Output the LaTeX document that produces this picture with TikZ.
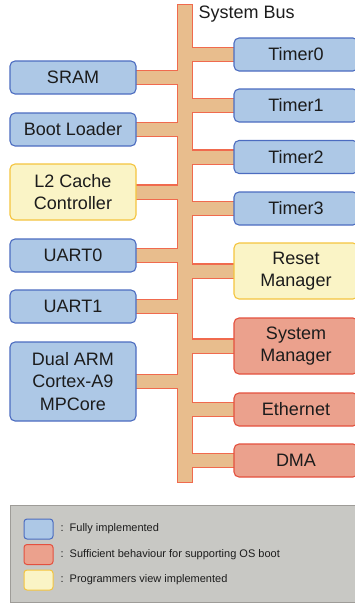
\documentclass[tikz,border=0pt]{standalone}
\usepackage{fontspec}
\setmainfont{Liberation Sans}
\usetikzlibrary{calc, backgrounds}

\definecolor{fullfill}{HTML}{ADC8E6}
\definecolor{fulldraw}{HTML}{4C6CC0}
\definecolor{bootfill}{HTML}{EBA18D}
\definecolor{bootdraw}{HTML}{E4503E}
\definecolor{pvfill}{HTML}{FAF4C6}
\definecolor{pvdraw}{HTML}{F4C43E}
\definecolor{busfill}{HTML}{E8BD8D}
\definecolor{busdraw}{HTML}{F06A4E}
\definecolor{legfill}{HTML}{C8C8C4}
\definecolor{legdraw}{HTML}{9E9C98}
\definecolor{txt}{HTML}{1C1C1C}

\tikzset{
    block/.style={rectangle, rounded corners=5pt, line width=1.1pt, inner sep=0pt,
        minimum width=126pt, minimum height=33pt, align=center, text=txt,
        font=\fontsize{18}{22.5}\selectfont},
    full/.style={block, fill=fullfill, draw=fulldraw},
    osboot/.style={block, fill=bootfill, draw=bootdraw},
    pview/.style={block, fill=pvfill, draw=pvdraw},
    rblock/.style={minimum width=124pt},
    busedge/.style={draw=busdraw, line width=2.4pt},
    busbody/.style={fill=busfill},
    swatch/.style={rectangle, rounded corners=3pt, line width=1pt, inner sep=0pt,
        minimum width=29pt, minimum height=20pt},
    legtext/.style={anchor=west, text=txt, font=\fontsize{11}{13}\selectfont}
}

\begin{document}
\begin{tikzpicture}[x=1pt, y=-1pt]
    \useasboundingbox (0,0) rectangle (355,603);

    % Left side blocks
    \node[full] (sram) at (73,77.5) {SRAM};
    \node[full] (boot) at (73,129.5) {Boot Loader};
    \node[pview, minimum height=56pt] (ltwo) at (73,192) {L2 Cache\\Controller};
    \node[full] (uartzero) at (73,255.5) {UART0};
    \node[full] (uartone) at (73,306.5) {UART1};
    \node[full, minimum height=79pt] (arm) at (73,381.5) {Dual ARM\\Cortex-A9\\MPCore};

    % Right side blocks
    \node[full, rblock] (timerzero) at (296,54.5) {Timer0};
    \node[full, rblock] (timerone) at (296,105.5) {Timer1};
    \node[full, rblock] (timertwo) at (296,157) {Timer2};
    \node[full, rblock] (timerthree) at (296,208.5) {Timer3};
    \node[pview, rblock, minimum height=56pt] (reset) at (296,271) {Reset\\Manager};
    \node[osboot, rblock, minimum height=56pt] (sysman) at (296,346) {System\\Manager};
    \node[osboot, rblock] (ether) at (296,409.5) {Ethernet};
    \node[osboot, rblock] (dma) at (296,460.5) {DMA};

    % System bus
    \coordinate (bustop) at (178,5);
    \coordinate (busbot) at (192,482);
    \node[anchor=west, text=txt, font=\fontsize{18}{22}\selectfont] (buslabel) at (195,14) {System Bus};

    \begin{scope}[on background layer]
        % outline pass, then fill pass on top
        \foreach \sty in {busedge, busbody} {
            \path[\sty] (bustop) rectangle (busbot);
            \foreach \blk in {sram,boot,ltwo,uartzero,uartone,arm} {
                \path[\sty] ($(\blk.east)+(-3,-6.5)$) rectangle ($(\blk.east -| bustop)+(1,6.5)$);
            }
            \foreach \blk in {timerzero,timerone,timertwo,timerthree,reset,sysman,ether,dma} {
                \path[\sty] ($(\blk.west)+(3,-6.5)$) rectangle ($(\blk.west -| busbot)+(-1,6.5)$);
            }
        }
    \end{scope}

    % Legend
    \fill[legfill, draw=legdraw, line width=1pt] (10,505) rectangle (362,602);
    \node[swatch, fill=fullfill, draw=fulldraw] (keyfull) at (38.5,529) {};
    \node[swatch, fill=bootfill, draw=bootdraw] (keyboot) at (38.5,554.5) {};
    \node[swatch, fill=pvfill, draw=pvdraw] (keypv) at (38.5,580) {};
    \node[legtext] (txtfull) at (57,529) {:\ \ Fully implemented};
    \node[legtext] (txtboot) at (57,554.5) {:\ \ Sufficient behaviour for supporting OS boot};
    \node[legtext] (txtpv) at (57,580) {:\ \ Programmers view implemented};
\end{tikzpicture}
\end{document}
